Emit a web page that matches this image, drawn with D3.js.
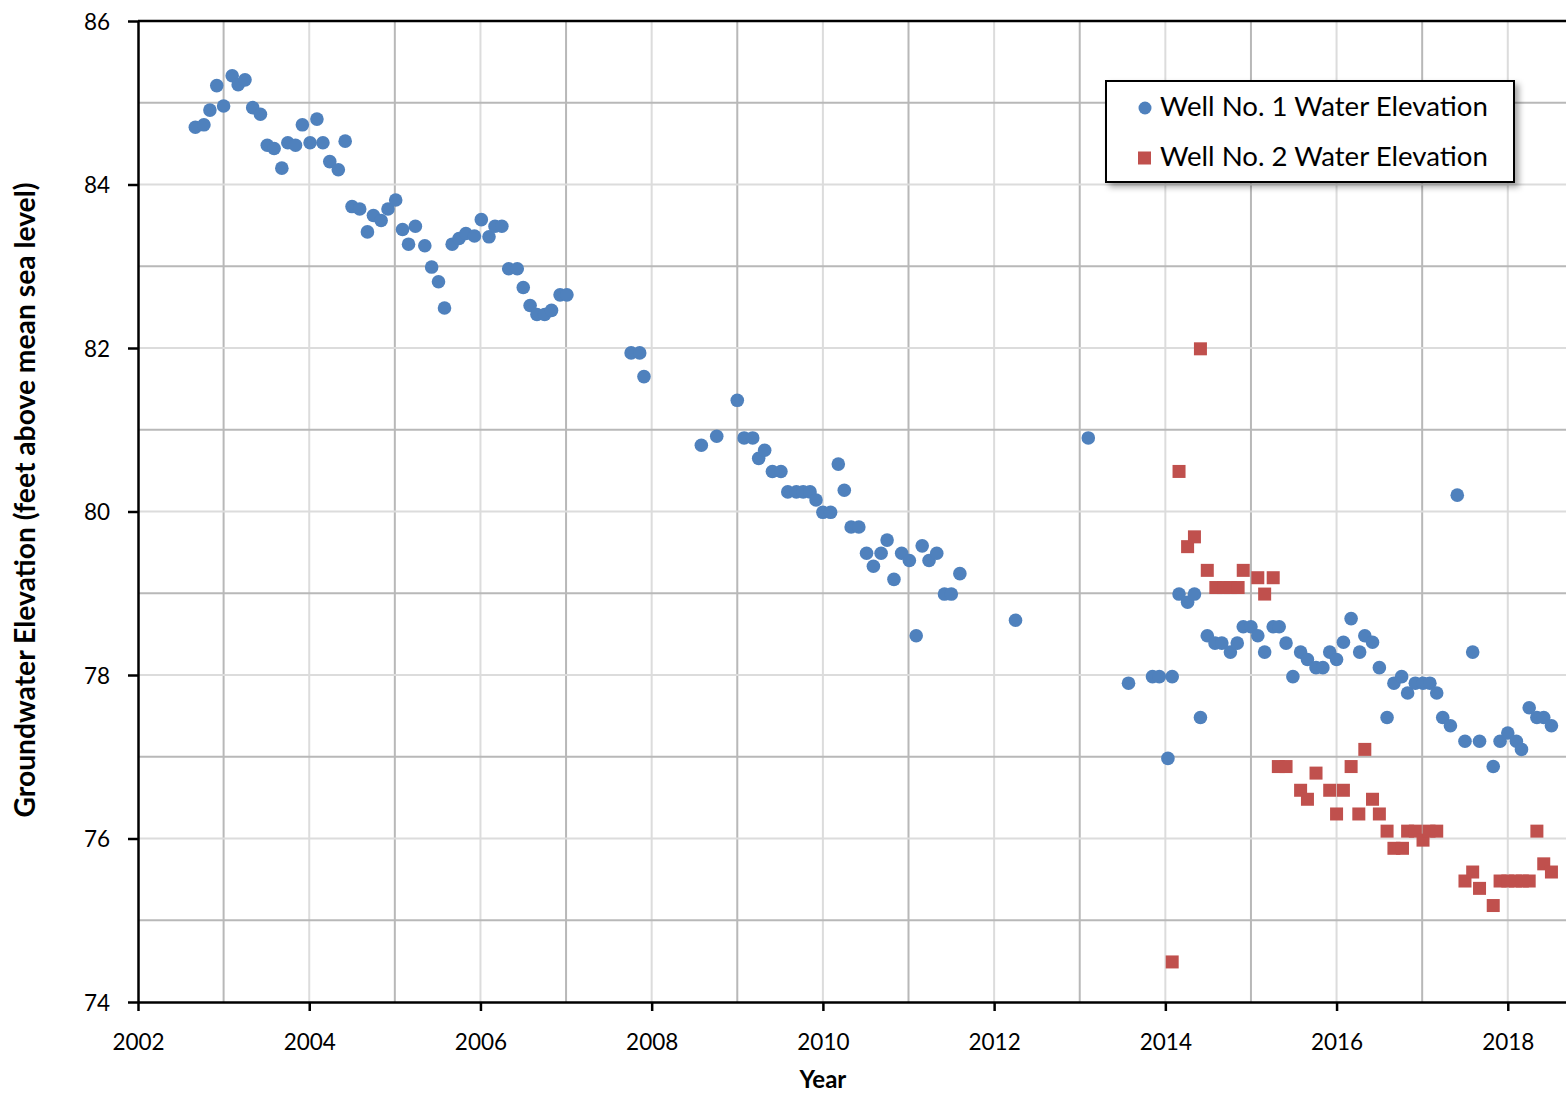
<!DOCTYPE html>
<html>
<head>
<meta charset="utf-8">
<script src="https://cdn.jsdelivr.net/npm/d3@7"></script>
<style>
  html, body { margin: 0; padding: 0; background: #fff; }
  svg { display: block; }
  text { font-family: Lato, "Open Sans", sans-serif; fill: #000; }
</style>
</head>
<body>
<div id="chart"></div>
<script>
// Groundwater monitoring records (decimal year, feet above mean sea level)
const well1Dates = [
  2002.67, 2002.77, 2002.84, 2002.92, 2003.00, 2003.10, 2003.17, 2003.25, 2003.34, 2003.43,
  2003.51, 2003.59, 2003.68, 2003.75, 2003.84, 2003.92, 2004.01, 2004.09, 2004.16, 2004.24,
  2004.34, 2004.42, 2004.50, 2004.59, 2004.68, 2004.75, 2004.84, 2004.92, 2005.01, 2005.09,
  2005.16, 2005.24, 2005.35, 2005.43, 2005.51, 2005.58, 2005.67, 2005.75, 2005.83, 2005.93,
  2006.01, 2006.10, 2006.17, 2006.25, 2006.33, 2006.43, 2006.50, 2006.58, 2006.66, 2006.75,
  2006.83, 2006.93, 2007.01,
  2007.76, 2007.86, 2007.91,
  2008.58, 2008.76, 2009.00, 2009.08, 2009.18, 2009.25, 2009.32, 2009.41, 2009.51, 2009.59,
  2009.69, 2009.77, 2009.85, 2009.92, 2010.00, 2010.09, 2010.18, 2010.25, 2010.33, 2010.42,
  2010.51, 2010.59, 2010.68, 2010.75, 2010.83, 2010.92, 2011.01, 2011.09, 2011.16, 2011.24,
  2011.33, 2011.42, 2011.50, 2011.60,
  2012.25, 2013.10,
  2013.57, 2013.85, 2013.93, 2014.03, 2014.08, 2014.16, 2014.26, 2014.34, 2014.41, 2014.49,
  2014.58, 2014.66, 2014.76, 2014.84, 2014.91, 2015.00, 2015.08, 2015.16, 2015.26, 2015.33,
  2015.41, 2015.49, 2015.58, 2015.66, 2015.76, 2015.84, 2015.92, 2016.00, 2016.08, 2016.17,
  2016.27, 2016.33, 2016.42, 2016.50, 2016.59, 2016.67, 2016.76, 2016.83, 2016.92, 2017.01,
  2017.09, 2017.17, 2017.24, 2017.33, 2017.41, 2017.50, 2017.59, 2017.67, 2017.83, 2017.91,
  2018.00, 2018.10, 2018.16, 2018.25, 2018.34, 2018.42, 2018.51
];
const well1Levels = [
  84.70, 84.73, 84.91, 85.21, 84.96, 85.33, 85.22, 85.28, 84.94, 84.86,
  84.48, 84.44, 84.20, 84.51, 84.48, 84.73, 84.51, 84.80, 84.51, 84.28,
  84.18, 84.53, 83.73, 83.70, 83.42, 83.62, 83.56, 83.70, 83.81, 83.45,
  83.27, 83.49, 83.25, 82.99, 82.81, 82.49, 83.27, 83.34, 83.40, 83.37,
  83.57, 83.36, 83.49, 83.49, 82.97, 82.97, 82.74, 82.52, 82.41, 82.41,
  82.46, 82.65, 82.65,
  81.94, 81.94, 81.65,
  80.81, 80.92, 81.36, 80.90, 80.90, 80.65, 80.75, 80.49, 80.49, 80.24,
  80.24, 80.24, 80.24, 80.14, 79.99, 79.99, 80.58, 80.26, 79.81, 79.81,
  79.49, 79.33, 79.49, 79.65, 79.17, 79.49, 79.40, 78.48, 79.58, 79.40,
  79.49, 78.99, 78.99, 79.24,
  78.67, 80.90,
  77.90, 77.98, 77.98, 76.98, 77.98, 78.99, 78.89, 78.99, 77.48, 78.48,
  78.39, 78.39, 78.28, 78.39, 78.59, 78.59, 78.48, 78.28, 78.59, 78.59,
  78.39, 77.98, 78.28, 78.19, 78.09, 78.09, 78.28, 78.19, 78.40, 78.69,
  78.28, 78.48, 78.40, 78.09, 77.48, 77.90, 77.98, 77.78, 77.90, 77.90,
  77.90, 77.78, 77.48, 77.38, 80.20, 77.19, 78.28, 77.19, 76.88, 77.19,
  77.29, 77.19, 77.09, 77.60, 77.48, 77.48, 77.38
];

const well2Dates = [
  2014.08, 2014.16, 2014.26, 2014.34, 2014.41, 2014.49, 2014.59, 2014.68, 2014.76, 2014.85,
  2014.91, 2015.08, 2015.16, 2015.26, 2015.32, 2015.41, 2015.58, 2015.66, 2015.76, 2015.92,
  2016.00, 2016.08, 2016.17, 2016.26, 2016.33, 2016.42, 2016.50, 2016.59, 2016.67, 2016.77,
  2016.83, 2016.92, 2017.01, 2017.08, 2017.17, 2017.50, 2017.59, 2017.67, 2017.83, 2017.91,
  2018.00, 2018.09, 2018.17, 2018.25, 2018.34, 2018.42, 2018.51
];
const well2Levels = [
  74.49, 80.49, 79.57, 79.69, 81.99, 79.28, 79.07, 79.07, 79.07, 79.07,
  79.28, 79.19, 78.99, 79.19, 76.88, 76.88, 76.59, 76.48, 76.80, 76.59,
  76.30, 76.59, 76.88, 76.30, 77.09, 76.48, 76.30, 76.09, 75.88, 75.88,
  76.09, 76.09, 75.98, 76.09, 76.09, 75.48, 75.59, 75.39, 75.18, 75.48,
  75.48, 75.48, 75.48, 75.48, 76.09, 75.69, 75.59
];

const seriesNames = ["Well No. 1 Water Elevation", "Well No. 2 Water Elevation"];
const xTickValues = [2002, 2004, 2006, 2008, 2010, 2012, 2014, 2016, 2018];
const yTickValues = [74, 76, 78, 80, 82, 84, 86];
const xDomain = [2002, 2018.68];
const yDomain = [74, 86];
const xTitle = "Year";
const yTitle = "Groundwater Elevation (feet above mean sea level)";

const W = 1566, H = 1094;
const margin = { top: 21, right: 0, bottom: 92, left: 138 };
const innerW = W - margin.left - margin.right;
const innerH = H - margin.top - margin.bottom;

const BLUE = "#4F81BD", RED = "#C0504D";

const svg = d3.select("#chart").append("svg")
  .attr("width", W).attr("height", H);

const defs = svg.append("defs");
const shadow = defs.append("filter").attr("id", "legend-shadow")
  .attr("x", "-10%").attr("y", "-20%").attr("width", "130%").attr("height", "160%");
shadow.append("feDropShadow")
  .attr("dx", 4).attr("dy", 4).attr("stdDeviation", 3)
  .attr("flood-color", "#000").attr("flood-opacity", 0.35);

const x = d3.scaleLinear().domain(xDomain).range([0, innerW]);
const y = d3.scaleLinear().domain(yDomain).range([innerH, 0]);

const g = svg.append("g").attr("transform", `translate(${margin.left},${margin.top})`);

// Yearly vertical gridlines: odd years drawn darker than labelled even years
const yearLines = d3.range(2003, 2019);
g.append("g").selectAll("line").data(yearLines).join("line")
  .attr("x1", d => x(d)).attr("x2", d => x(d))
  .attr("y1", 0).attr("y2", innerH)
  .attr("stroke", d => d % 2 === 1 ? "#b8b8b8" : "#dcdcdc")
  .attr("stroke-width", 2);

// Horizontal gridlines every foot
const levelLines = d3.range(75, 86);
g.append("g").selectAll("line").data(levelLines).join("line")
  .attr("x1", 0).attr("x2", innerW)
  .attr("y1", d => y(d)).attr("y2", d => y(d))
  .attr("stroke", d => d % 2 === 1 ? "#b8b8b8" : "#dcdcdc")
  .attr("stroke-width", 2);

// Top frame line
g.append("line").attr("x1", 0).attr("x2", innerW).attr("y1", 0).attr("y2", 0)
  .attr("stroke", "#000").attr("stroke-width", 2.5);

// Axes
const xAxis = d3.axisBottom(x).tickValues(xTickValues).tickFormat(d3.format("d"))
  .tickSize(9).tickSizeOuter(0).tickPadding(23);
const yAxis = d3.axisLeft(y).tickValues(yTickValues).tickFormat(d3.format("d"))
  .tickSize(10).tickSizeOuter(0).tickPadding(18);

const gx = g.append("g").attr("transform", `translate(0,${innerH})`).call(xAxis);
const gy = g.append("g").call(yAxis);
[gx, gy].forEach(ax => {
  ax.select(".domain").attr("stroke", "#000").attr("stroke-width", 2.5);
  ax.selectAll(".tick line").attr("stroke", "#000").attr("stroke-width", 2.5);
  ax.selectAll(".tick text").attr("font-family", "Lato, sans-serif")
    .attr("font-size", 22.5).attr("fill", "#000");
});
gy.selectAll(".tick text").attr("dy", "0.36em");

// Series markers
const well1 = well1Dates.map((d, i) => ({ t: d, v: well1Levels[i] }));
const well2 = well2Dates.map((d, i) => ({ t: d, v: well2Levels[i] }));

g.append("g").selectAll("circle").data(well1).join("circle")
  .attr("cx", d => x(d.t)).attr("cy", d => y(d.v)).attr("r", 6.8)
  .attr("fill", BLUE);

const sq = 13;
g.append("g").selectAll("rect").data(well2).join("rect")
  .attr("x", d => x(d.t) - sq / 2).attr("y", d => y(d.v) - sq / 2)
  .attr("width", sq).attr("height", sq)
  .attr("fill", RED);

// Axis titles
svg.append("text")
  .attr("x", margin.left + x(2010)).attr("y", 1088)
  .attr("text-anchor", "middle").attr("font-weight", "bold").attr("font-size", 24)
  .text(xTitle);

const yt = svg.append("text")
  .attr("transform", `translate(35,${500}) rotate(-90)`)
  .attr("text-anchor", "middle").attr("font-weight", "bold").attr("font-size", 24)
  .text(yTitle);
// scale the title so it spans the same length as the axis label band
{
  const len = yt.node().getComputedTextLength();
  yt.attr("font-size", 24 * 635 / len);
}

// Legend
const lg = svg.append("g").attr("transform", "translate(1106,81)");
lg.append("rect").attr("width", 408).attr("height", 101)
  .attr("fill", "#fff").attr("stroke", "#000").attr("stroke-width", 2)
  .attr("filter", "url(#legend-shadow)");

const rows = [
  { name: seriesNames[0], color: BLUE, shape: "circle", cy: 27 },
  { name: seriesNames[1], color: RED, shape: "square", cy: 77 }
];
rows.forEach(r => {
  if (r.shape === "circle") {
    lg.append("circle").attr("cx", 39).attr("cy", r.cy).attr("r", 6.5).attr("fill", r.color);
  } else {
    lg.append("rect").attr("x", 32).attr("y", r.cy - 6.5).attr("width", 13).attr("height", 13)
      .attr("fill", r.color);
  }
  const t = lg.append("text").attr("x", 54).attr("y", r.cy + 8)
    .attr("font-size", 26).text(r.name);
  const len = t.node().getComputedTextLength();
  t.attr("font-size", 26 * 328 / len);
});
</script>
</body>
</html>
